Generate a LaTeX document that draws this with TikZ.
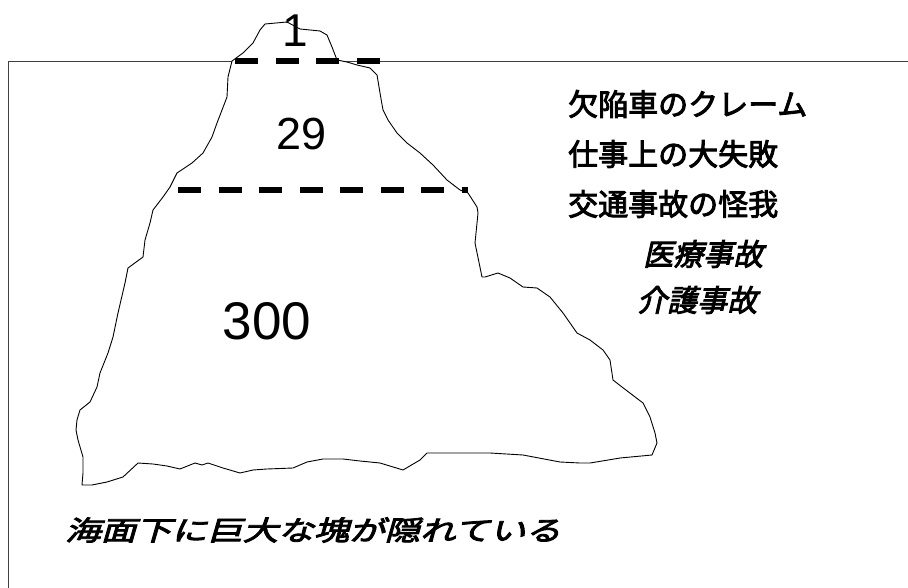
\documentclass[tikz,border=0pt]{standalone}
\usepackage{fontspec}
\setmainfont{Liberation Sans}
\newfontfamily\jpfont{Noto Sans CJK JP}[FakeBold=3]
\newfontfamily\jpslant{Noto Sans CJK JP}[FakeBold=3,FakeSlant=0.22]

\begin{document}
\begin{tikzpicture}[
  x=1pt, y=-1pt,
  sea/.style={draw=black!75, line width=0.9pt},
  berg/.style={draw, line width=0.9pt, fill=white, line join=round},
  level/.style={line width=6pt, dash pattern=on 23pt off 17.5pt},
  num/.style={inner sep=0pt, font=\fontsize{45}{45}\selectfont},
  item/.style={anchor=west, inner sep=0pt, font=\jpfont\fontsize{30}{30}\selectfont},
  itemit/.style={item, font=\jpslant\fontsize{30}{30}\selectfont},
  caption/.style={anchor=west, inner sep=0pt, xscale=1.3, font=\jpslant\fontsize{27.3}{27.3}\selectfont}
]
\useasboundingbox (0,0) rectangle (908,588);

% sea surface and left edge
\draw[sea] (8,588) |- (908,61);

% the iceberg
\draw[berg] (82,485) -- (83,473) -- (83,457) -- (78,440) -- (76,430) -- (77,420)
  -- (80,410) -- (90,402) -- (97,387) -- (100,373) -- (108,353) -- (113,337)
  -- (118,313) -- (125,283) -- (128,268) -- (143,257) -- (145,240) -- (150,223)
  -- (153,210) -- (163,197) -- (170,187) -- (177,173) -- (192,163) -- (203,153)
  -- (212,137) -- (217,123) -- (222,110) -- (227,97) -- (228,77) -- (232,61)
  -- (243,53) -- (253,43) -- (260,30) -- (265,24) -- (287,22) -- (300,29)
  -- (320,31) -- (327,35) -- (332,47) -- (337,60) -- (347,62) -- (357,65)
  -- (370,68) -- (377,75) -- (380,93) -- (383,110) -- (388,120) -- (397,133)
  -- (407,143) -- (420,153) -- (433,165) -- (447,180) -- (460,190) -- (468,193)
  -- (477,207) -- (478,213) -- (475,243) -- (482,277) -- (485,277) -- (498,273)
  -- (510,278) -- (523,287) -- (537,288) -- (550,297) -- (563,313) -- (577,333)
  -- (590,340) -- (603,350) -- (610,360) -- (613,380) -- (622,387) -- (643,403)
  -- (650,417) -- (655,433) -- (657,443) -- (652,455) -- (620,458) -- (590,463)
  -- (580,463) -- (560,462) -- (523,455) -- (490,453) -- (450,453) -- (427,453)
  -- (420,460) -- (403,470) -- (380,463) -- (360,461) -- (343,459) -- (323,459)
  -- (307,462) -- (293,468) -- (267,469) -- (253,470) -- (240,473) -- (223,468)
  -- (208,463) -- (202,465) -- (195,463) -- (180,469) -- (167,466) -- (153,464)
  -- (138,463) -- (123,477) -- (107,482) -- (92,485) -- cycle;

% level lines
\draw[level] (235,61) -- (381,61);
\draw[level] (178,190) -- (468,190);

% counts
\node[num, font=\fontsize{46}{46}\selectfont] (tip) at (295,31) {1};
\node[num] (mid) at (302,134) {29};
\node[num, font=\fontsize{53}{53}\selectfont] (base) at (267,321) {300};

% examples
\node[item] (k1) at (568,104) {欠陥車のクレーム};
\node[item] (k2) at (568,154) {仕事上の大失敗};
\node[item] (k3) at (568,204) {交通事故の怪我};
\node[itemit] (k4) at (643,254) {医療事故};
\node[itemit] (k5) at (637,300) {介護事故};

\node[caption] (sink) at (65,530) {海面下に巨大な塊が隠れている};
\end{tikzpicture}
\end{document}
